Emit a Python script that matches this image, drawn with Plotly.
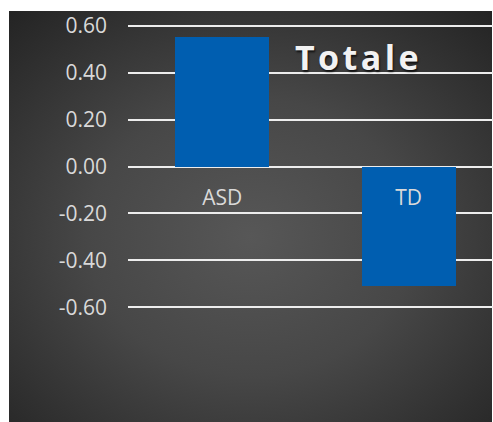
import base64
import plotly.graph_objects as go

categories = ["ASD", "TD"]
values = [0.55, -0.51]
tick_values = [0.6, 0.4, 0.2, 0.0, -0.2, -0.4, -0.6]
tick_labels = ["0.60", "0.40", "0.20", "0.00", "-0.20", "-0.40", "-0.60"]
title_text = "Totale"

W, H = 493, 422
ML, MT, MR, MB = 128, 11, 0, 0
plot_w = W - ML - MR
plot_h = H - MT - MB

svg = (
    '<svg xmlns="http://www.w3.org/2000/svg" width="483" height="411" viewBox="0 0 483 411" preserveAspectRatio="none">'
    '<defs><radialGradient id="g" cx="50%" cy="55%" r="75%">'
    '<stop offset="0%" stop-color="#575757"/>'
    '<stop offset="45%" stop-color="#474747"/>'
    '<stop offset="100%" stop-color="#232323"/>'
    '</radialGradient>'
    '<linearGradient id="b" x1="0" y1="0" x2="1" y2="1"></linearGradient></defs>'
    '<rect x="0" y="0" width="483" height="411" fill="url(#g)"/></svg>'
)
bg_src = "data:image/svg+xml;base64," + base64.b64encode(svg.encode()).decode()

fig = go.Figure()
fig.add_trace(go.Bar(
    x=categories, y=values, width=0.505,
    marker=dict(color="#005eb0", line=dict(width=0)),
    hoverinfo="skip",
))

zero_pos = (H - 166.5 - MB) / plot_h

fig.update_layout(
    width=W, height=H,
    margin=dict(l=ML, r=MR, t=MT, b=MB, pad=0),
    paper_bgcolor="white",
    plot_bgcolor="rgba(0,0,0,0)",
    showlegend=False,
    bargap=0,
    font=dict(family="Open Sans", size=21, color="#d9d9d9"),
    images=[dict(
        source=bg_src, xref="paper", yref="paper",
        x=(9 - ML) / plot_w, y=1, sizex=(492 - 9) / plot_w, sizey=1,
        xanchor="left", yanchor="top", sizing="stretch", layer="below",
    )],
    xaxis=dict(
        range=[-0.505, 1.452], showgrid=False, zeroline=False, showline=False,
        ticks="", anchor="free", position=zero_pos, ticklabelstandoff=16,
        tickfont=dict(family="Open Sans", size=21, color="#d9d9d9"),
        fixedrange=True,
    ),
    yaxis=dict(
        range=[-1.0886, 0.6626], tickvals=tick_values, ticktext=tick_labels,
        showgrid=True, gridcolor="#ededed", gridwidth=2, zeroline=False,
        showline=False, ticks="", ticklabelstandoff=20,
        tickfont=dict(family="Open Sans", size=21, color="#d9d9d9"),
        fixedrange=True,
    ),
    annotations=[dict(
        text="<b>" + "\u200a".join(title_text) + "</b>",
        xref="paper", yref="paper", x=(357 - ML) / plot_w, y=(H - 57 - MB) / plot_h,
        xanchor="center", yanchor="middle", showarrow=False,
        font=dict(family="Open Sans", size=34, color="#f2f2f2",
                  shadow="1px 2px 2px rgba(0,0,0,0.7)"),
    )],
)

fig.write_html("out.html")
